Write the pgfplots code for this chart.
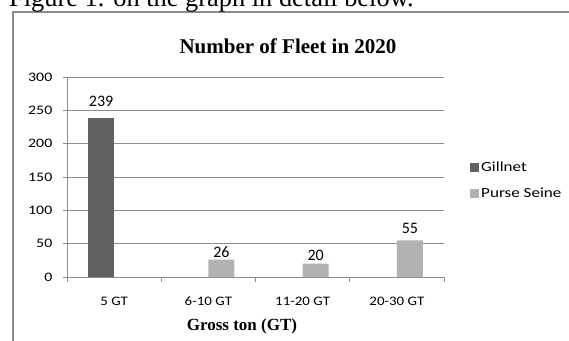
\documentclass[border=0pt]{standalone}
\usepackage{fontspec}
\setmainfont{Liberation Serif}
\newfontfamily\carl{Carlito}
\newfontfamily\carlw[FakeStretch=1.15]{Carlito}
\newfontfamily\carlww[FakeStretch=1.22]{Carlito}
\usepackage{pgfplots}
\usepackage{pgfplotstable}
\pgfplotsset{compat=1.18}
\definecolor{gillnet}{HTML}{606060}
\definecolor{purse}{HTML}{B2B2B2}
\definecolor{gridgray}{HTML}{8C8C8C}
\definecolor{bordergray}{HTML}{8A8A8A}
\pgfplotstableread{
x y gap
0 239 11
}\gillnetdata
\pgfplotstableread{
x y gap
1 26 1.5
2 20 2.5
3 55 7
}\pursedata
\begin{document}
\begin{tikzpicture}[x=1pt,y=1pt]
\useasboundingbox (0,0) rectangle (569,340);
\clip (0,0) rectangle (569,340);
\draw[color=bordergray, line width=1.2pt] (13,-2)--(13,328)--(572,328);
\node[anchor=base west, inner sep=0pt, font=\fontsize{26.4}{30}\selectfont] at (9,333.5) {Figure 1. on the graph in detail below.};
\node[anchor=base, inner sep=0pt, font=\fontsize{21}{24}\selectfont\bfseries] at (288,286) {Number of Fleet in 2020};
\node[anchor=base, inner sep=0pt, font=\fontsize{17}{20}\selectfont\bfseries] at (242,10) {Gross ton (GT)};
\begin{axis}[
  at={(67pt,63pt)}, anchor=south west,
  width=377pt, height=200pt, scale only axis,
  /pgf/number format/assume math mode=true,
  ybar=0pt, bar width=26pt,
  xmin=-0.5, xmax=3.5, ymin=0, ymax=300,
  xtick={-0.5,0.5,1.5,2.5,3.5}, x tick label as interval,
  xticklabels={5 GT,6-10 GT,11-20 GT,20-30 GT},
  ytick={0,50,...,300},
  axis x line*=bottom, axis y line*=left,
  axis line style={-, draw=gridgray, line width=0.8pt},
  ymajorgrids, major grid style={draw=gridgray, line width=0.8pt},
  tick align=outside, major tick length=4.5pt,
  tick style={draw=gridgray, line width=0.8pt},
  xticklabel style={font=\carlw\fontsize{13}{15}\selectfont, anchor=base, inner sep=0pt, yshift=-24pt},
  yticklabel style={font=\carlww\fontsize{13}{15}\selectfont, anchor=east, inner sep=0pt, xshift=-10pt},
  nodes near coords,
  visualization depends on={\thisrow{gap} \as \gap},
  every node near coord/.append style={font=\carl\fontsize{16}{18}\selectfont, inner sep=0pt, anchor=south, yshift=\gap pt, text=black},
  legend style={at={(1,0.49)}, anchor=west, xshift=26pt, yshift=-1.5pt, draw=none, fill=none, inner sep=0pt,
    font=\carlww\fontsize{14}{16}\selectfont, row sep=11pt, nodes={inner sep=2pt}},
  legend cell align=left,
]
\addplot[fill=gillnet, draw=none, /pgfplots/legend image code/.code={\fill[gillnet] (0pt,-4.5pt) rectangle (9pt,4.5pt);}] table[x=x, y=y] {\gillnetdata};
\addplot[fill=purse, draw=none, /pgfplots/legend image code/.code={\fill[purse] (0pt,-4.5pt) rectangle (9pt,4.5pt);}] table[x=x, y=y] {\pursedata};
\legend{Gillnet, Purse Seine}
\end{axis}
\end{tikzpicture}
\end{document}
